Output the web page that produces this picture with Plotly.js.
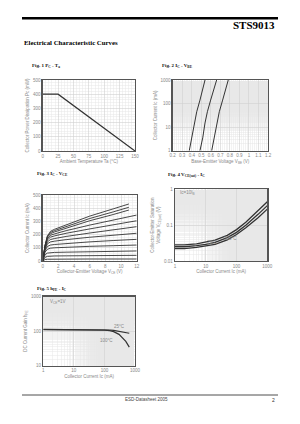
<!DOCTYPE html>
<html><head><meta charset="utf-8">
<script src="https://cdn.plot.ly/plotly-3.0.1.min.js"></script>
<style>html,body{margin:0;padding:0;background:#fff}#c{width:300px;height:424px}</style>
</head><body><div id="c"></div>
<script>
// Fig 1: Pc - Ta
const ta = [0, 25, 150];
const pc = [400, 400, 0];
// Fig 2: Ic - VBE (three temperatures)
const icVbe = [1, 3.5, 15, 45, 140, 380, 1000];
const vbeA = [0.374, 0.399, 0.423, 0.452, 0.486, 0.515, 0.539];
const vbeB = [0.486, 0.515, 0.539, 0.564, 0.598, 0.633, 0.661];
const vbeC = [0.609, 0.633, 0.661, 0.689, 0.724, 0.752, 0.783];
// Fig 3: Ic - VCE family
const vceShort = [0, 0.3, 0.6, 1.0, 1.5, 3, 6, 9, 11];
const vceLong = [0, 0.3, 0.6, 1.0, 1.5, 3, 6, 9, 12];
const ic1 = [0, 120, 190, 225, 240, 275, 340, 395, 432];
const ic2 = [0, 118, 185, 216, 230, 262, 322, 372, 407];
const ic3 = [0, 115, 180, 207, 220, 250, 305, 352, 386];
const ic4 = [0, 110, 170, 195, 205, 230, 272, 312, 348];
const ic5 = [0, 105, 160, 181, 190, 210, 243, 275, 305];
const ic6 = [0, 98, 145, 163, 170, 186, 212, 237, 260];
const ic7 = [0, 90, 130, 145, 150, 162, 180, 196, 210];
const ic8 = [0, 80, 110, 121, 125, 133, 145, 155, 164];
const ic9 = [0, 68, 89, 97, 100, 105, 111, 116, 121];
const ic10 = [0, 48, 60, 64, 65, 67, 70, 73, 76];
const ic11 = [0, 28, 35, 37, 38, 39, 40, 42, 43];
const ic12 = [0, 11, 13, 14, 14, 14, 15, 15, 15];
// Fig 4: VCE(sat) - Ic
const icSat = [1, 2, 5, 10, 20, 50, 100, 200, 500, 1000];
const vsat1 = [0.028, 0.028, 0.030, 0.033, 0.038, 0.052, 0.075, 0.12, 0.25, 0.45];
const vsat2 = [0.025, 0.025, 0.027, 0.029, 0.033, 0.045, 0.063, 0.10, 0.20, 0.35];
const vsat3 = [0.022, 0.022, 0.024, 0.026, 0.029, 0.039, 0.055, 0.085, 0.16, 0.28];
// Fig 5: hFE - Ic
const icH = [1, 2, 5, 10, 20, 50, 100, 150, 200, 300, 500, 650];
const hfe1 = [112, 112, 112, 111, 111, 110, 109, 107, 104, 99, 92, 86];
const hfe2 = [110, 110, 110, 109, 109, 108, 106, 103, 96, 80, 50, 34];

const W = 300, H = 424;
const px = v => v / W, py = v => 1 - v / H;
const tf = {family: 'Liberation Sans, Arial', size: 4.5, color: '#888'};
const gridC = '#d0d0d0', minC = '#e8e8e8', frame = '#555';

function ax(dom, extra) {
  return Object.assign({
    domain: dom, showline: true, linecolor: frame, linewidth: 1.3, mirror: true,
    showgrid: true, gridcolor: gridC, gridwidth: 0.6, zeroline: false,
    ticks: '', tickfont: tf, ticklen: 0,
    minor: {showgrid: true, gridcolor: minC, gridwidth: 0.5},
    fixedrange: true
  }, extra);
}
function ttl(t, s) { return {text: t, font: tf, standoff: s}; }

const ln = (x, y, xa, ya, w) => ({x, y, xaxis: xa, yaxis: ya, type: 'scatter', mode: 'lines',
  line: {color: '#333', width: w || 1}, hoverinfo: 'skip', showlegend: false});

const data = [
  ln(ta, pc, 'x', 'y', 1.2),
  ln(vbeA, icVbe, 'x2', 'y2', 1), ln(vbeB, icVbe, 'x2', 'y2', 1), ln(vbeC, icVbe, 'x2', 'y2', 1),
  ln(vceShort, ic1, 'x3', 'y3', 0.9), ln(vceShort, ic2, 'x3', 'y3', 0.9), ln(vceShort, ic3, 'x3', 'y3', 0.9),
  ln(vceLong, ic4, 'x3', 'y3', 0.9), ln(vceLong, ic5, 'x3', 'y3', 0.9), ln(vceLong, ic6, 'x3', 'y3', 0.9),
  ln(vceLong, ic7, 'x3', 'y3', 0.9), ln(vceLong, ic8, 'x3', 'y3', 0.9), ln(vceLong, ic9, 'x3', 'y3', 0.9),
  ln(vceLong, ic10, 'x3', 'y3', 0.9), ln(vceLong, ic11, 'x3', 'y3', 0.9), ln(vceLong, ic12, 'x3', 'y3', 0.9),
  ln(icSat, vsat1, 'x4', 'y4', 1.3), ln(icSat, vsat2, 'x4', 'y4', 1.3), ln(icSat, vsat3, 'x4', 'y4', 1.3),
  ln(icH, hfe1, 'x5', 'y5', 1.2), ln(icH, hfe2, 'x5', 'y5', 1.2)
];

const layout = {
  width: W, height: H, margin: {l: 0, r: 0, t: 0, b: 0},
  paper_bgcolor: '#fff', plot_bgcolor: '#fff', showlegend: false,
  xaxis: ax([px(42.7), px(135)], {range: [0, 150], dtick: 25, anchor: 'y',
    title: ttl('Ambient Temperature Ta (°C)', 2)}),
  yaxis: ax([py(151), py(80)], {range: [0, 500], dtick: 100, anchor: 'x',
    title: ttl('Collector Power Dissipation Pc (mW)', 3)}),
  xaxis2: ax([px(172.7), px(268)], {range: [0.2, 1.2], dtick: 0.1, anchor: 'y2',
    title: ttl('Base-Emitter Voltage V<sub>BE</sub> (V)', 2)}),
  yaxis2: ax([py(150.7), py(80)], {type: 'log', range: [0, 3], anchor: 'x2',
    tickvals: [1, 10, 100, 1000], title: ttl('Collector Current Ic (mA)', 3)}),
  xaxis3: ax([px(42.7), px(136.7)], {range: [0, 12], dtick: 2, anchor: 'y3',
    title: ttl('Collector-Emitter Voltage V<sub>CE</sub> (V)', 2)}),
  yaxis3: ax([py(261), py(195)], {range: [0, 500], dtick: 100, anchor: 'x3',
    title: ttl('Collector Current Ic (mA)', 3)}),
  xaxis4: ax([px(175), px(267.3)], {type: 'log', range: [0, 3], anchor: 'y4',
    tickvals: [1, 10, 100, 1000], title: ttl('Collector Current Ic (mA)', 2)}),
  yaxis4: ax([py(261), py(189.3)], {type: 'log', range: [-2, 0], anchor: 'x4',
    tickvals: [0.01, 0.1, 1], title: ttl('Collector-Emitter Saturation<br>Voltage V<sub>CE(sat)</sub> (V)', 3)}),
  xaxis5: ax([px(43.3), px(135)], {type: 'log', range: [0, 3], anchor: 'y5',
    tickvals: [1, 10, 100, 1000], title: ttl('Collector Current Ic (mA)', 2)}),
  yaxis5: ax([py(365.5), py(296.5)], {type: 'log', range: [1, 3], anchor: 'x5',
    tickvals: [10, 100, 1000], title: ttl('DC Current Gain h<sub>FE</sub>', 3)}),
  shapes: [
    {type: 'line', xref: 'paper', yref: 'paper', x0: px(22), x1: px(278), y0: py(18.3), y1: py(18.3), line: {color: '#000', width: 2.5}},
    {type: 'line', xref: 'paper', yref: 'paper', x0: px(22), x1: px(278), y0: py(395), y1: py(395), line: {color: '#222', width: 0.8}}
  ],
  annotations: []
};

const serif = 'Liberation Serif, Times New Roman, serif';
function note(t, x, y, o) {
  layout.annotations.push(Object.assign({text: t, xref: 'paper', yref: 'paper', x: px(x), y: py(y),
    xanchor: 'left', yanchor: 'middle', showarrow: false,
    font: {family: serif, size: 5, color: '#111'}}, o || {}));
}
note('<b>STS9013</b>', 277, 25.5, {xanchor: 'right', font: {family: serif, size: 11, color: '#000'}});
note('<b>Electrical Characteristic Curves</b>', 22, 43, {font: {family: serif, size: 6.8, color: '#000'}});
note('<b>Fig. 1 P<sub>C</sub> - T<sub>a</sub></b>', 30, 66);
note('<b>Fig. 2 I<sub>C</sub> - V<sub>BE</sub></b>', 160, 66);
note('<b>Fig. 3 I<sub>C</sub> - V<sub>CE</sub></b>', 35, 174);
note('<b>Fig. 4 V<sub>CE(sat)</sub> - I<sub>C</sub></b>', 166, 175);
note('<b>Fig. 5 h<sub>FE</sub> - I<sub>C</sub></b>', 35, 289);
const sm = {font: {family: 'Liberation Sans, Arial', size: 4.5, color: '#888'}};
note('Ic=10I<sub>B</sub>', 178, 193, sm);
note('25°C', 205, 242, sm);
note('100°C', 222, 238, sm);
note('V<sub>CE</sub>=1V', 48, 302, sm);
note('25°C', 112, 326, sm);
note('100°C', 98, 340, sm);
note('ESD-Datasheet 2005', 146, 399.5, {xanchor: 'center', font: {family: 'Liberation Sans, Arial', size: 4.5, color: '#444'}});
note('2', 277, 400, {xanchor: 'right', font: {family: 'Liberation Sans, Arial', size: 5, color: '#333'}});

Plotly.newPlot('c', data, layout, {staticPlot: true, displayModeBar: false});
</script></body></html>
